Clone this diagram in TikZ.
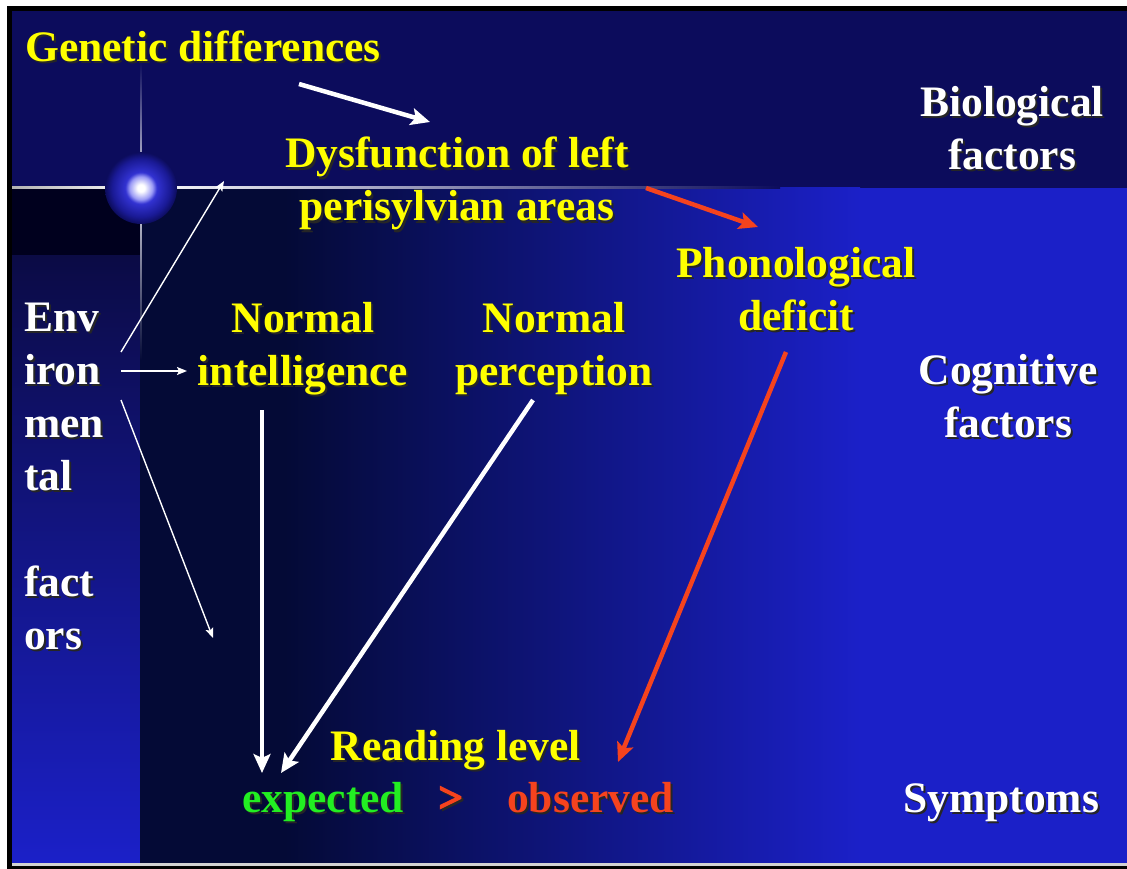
\documentclass[tikz,border=0pt]{standalone}
\usepackage{fontspec}
\setmainfont{Liberation Serif}
\newfontfamily\heavyserif[BoldFeatures={FakeBold=3}]{Liberation Serif}
\usetikzlibrary{arrows.meta}
\definecolor{slidenavy}{HTML}{0C0C5C}
\definecolor{slideblue}{HTML}{1B20C8}
\definecolor{slidedark}{HTML}{040A36}
\definecolor{cornerdark}{HTML}{00001E}
\definecolor{columntop}{HTML}{0B0B45}
\definecolor{labelyellow}{HTML}{FFFF00}
\definecolor{labelgreen}{HTML}{22EE22}
\definecolor{labelred}{HTML}{F5431E}
\definecolor{glowlight}{HTML}{9A9AF5}
\definecolor{glowblue}{HTML}{3232D2}
\definecolor{glowdeep}{HTML}{1A1A96}

\pgfdeclareradialshading{starglow}{\pgfpoint{0bp}{0bp}}{color(0bp)=(white); color(2.5bp)=(white); color(8bp)=(glowlight); color(11bp)=(glowblue); color(20bp)=(glowdeep); color(25bp)=(slidenavy); color(50bp)=(slidenavy)}

% text with a dark drop shadow: name, options, position, colour, text
\newcommand{\shadowlabel}[5]{%
  \node[slidetext, #2, text=black!85, xshift=2pt, yshift=-2pt] at (#3) {#5};
  \node[slidetext, #2, text=#4] (#1) at (#3) {#5};}

\begin{document}
\begin{tikzpicture}[x=1pt, y=-1pt,
  slidetext/.style={font=\fontsize{43.5}{53}\selectfont\bfseries, inner sep=0pt, align=center},
  bigarrow/.style={line width=4.5pt, -{Stealth[length=19pt, width=17pt, inset=4pt]}},
  thinarrow/.style={line width=1.4pt, -{Stealth[length=10pt, width=8pt, inset=2pt]}}]
  \useasboundingbox (0,0) rectangle (1127,869);
  % frame and background
  \fill[white] (0,0) rectangle (1127,869);
  \fill[black] (7,6) rectangle (1127,869);
  \fill[slidenavy] (12,11) rectangle (1127,188);
  \fill[cornerdark] (12,188) rectangle (140,255);
  \shade[top color=columntop, bottom color=slideblue] (12,255) rectangle (140,863);
  \fill[slidedark] (140,188) rectangle (285,863);
  \shade[left color=slidedark, right color=slideblue] (285,188) rectangle (860,863);
  \fill[slideblue] (860,188) rectangle (1127,863);
  \fill[gray!35] (12,863) rectangle (1127,865.5);
  % star flare
  \shade[left color=gray!60, right color=white] (12,187) rectangle (141,189);
  \shade[left color=white, right color=slidenavy] (141,187) rectangle (780,189);
  \shade[top color=slidenavy, bottom color=white!85!slidenavy] (140.4,62) rectangle (141.6,188);
  \shade[top color=white!85!slidenavy, bottom color=slidedark] (140.4,188) rectangle (141.6,360);
  \shade[shading=starglow] (141,188) circle (36);
  \fill[white] (141,188) circle (2.5);

  % labels (base = last line)
  \shadowlabel{genetic}{anchor=base west}{25,62}{labelyellow}{Genetic differences}
  \shadowlabel{dysfunction}{anchor=base}{457,221}{labelyellow}{Dysfunction of left\\perisylvian areas}
  \shadowlabel{phono}{anchor=base}{796,330}{labelyellow}{Phonological\\deficit}
  \shadowlabel{intel}{anchor=base}{303,385}{labelyellow}{Normal\\intelligence}
  \shadowlabel{percep}{anchor=base}{554,385}{labelyellow}{Normal\\perception}
  \shadowlabel{bio}{anchor=base}{1012,170}{white}{Biological\\factors}
  \shadowlabel{cogn}{anchor=base}{1008,437}{white}{Cognitive\\factors}
  \shadowlabel{env}{anchor=base west, align=left}{24,649}{white}{Env\\iron\\men\\tal\\[53pt]fact\\ors}
  \shadowlabel{reading}{anchor=base}{456,760}{labelyellow}{Reading level}
  \shadowlabel{expected}{anchor=base west}{242,812}{labelgreen}{expected}
  \shadowlabel{greater}{anchor=base west}{438,812}{labelred}{\heavyserif >}
  \shadowlabel{observed}{anchor=base west}{507,812}{labelred}{observed}
  \shadowlabel{symptoms}{anchor=base west}{903,812}{white}{Symptoms}

  % arrow ends
  \coordinate (gen-out) at (299,84);
  \coordinate (dys-in) at (430,122);
  \coordinate (dys-out) at (646,188);
  \coordinate (phono-in) at (758,227);
  \coordinate (env-a) at (121,352);
  \coordinate (env-a-end) at (224,181);
  \coordinate (env-b) at (121,371);
  \coordinate (env-b-end) at (187,371);
  \coordinate (env-c) at (121,400);
  \coordinate (env-c-end) at (213,638);
  \coordinate (intel-out) at (262,410);
  \coordinate (exp-in-a) at (262,773);
  \coordinate (percep-out) at (533,400);
  \coordinate (exp-in-b) at (281,773);
  \coordinate (phono-out) at (786,352);
  \coordinate (obs-in) at (618,762);

  % connectors
  \draw[bigarrow, white] (gen-out) -- (dys-in);
  \draw[bigarrow, labelred] (dys-out) -- (phono-in);
  \draw[thinarrow, white] (env-a) -- (env-a-end);
  \draw[thinarrow, white] (env-b) -- (env-b-end);
  \draw[thinarrow, white] (env-c) -- (env-c-end);
  \draw[bigarrow, white] (intel-out) -- (exp-in-a);
  \draw[bigarrow, white] (percep-out) -- (exp-in-b);
  \draw[bigarrow, labelred] (phono-out) -- (obs-in);
\end{tikzpicture}
\end{document}
